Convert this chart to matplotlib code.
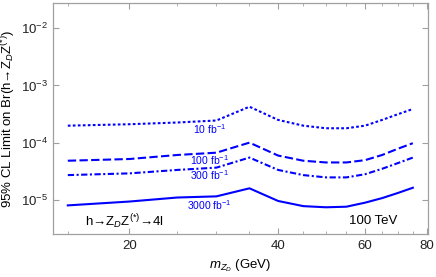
import numpy as np
import matplotlib
matplotlib.use("Agg")
import matplotlib.pyplot as plt
from matplotlib.ticker import FixedLocator, NullFormatter, LogLocator, LogFormatterMathtext, NullLocator

plt.rcParams['font.family'] = ['Liberation Sans', 'DejaVu Sans']
plt.rcParams['mathtext.fontset'] = 'custom'
plt.rcParams['mathtext.rm'] = 'Liberation Sans'
plt.rcParams['mathtext.it'] = 'Liberation Sans:italic'

# dark photon mass (GeV)
mzd = [15, 20, 25, 30, 35, 40, 45, 50, 55, 60, 65, 70, 75]

# log10 of the 95% CL limit on Br(h -> Z_D Z*)
lim_10 = [-3.70, -3.675, -3.645, -3.61, -3.37, -3.60, -3.70, -3.745, -3.745, -3.70, -3.60, -3.50, -3.41]
lim_100 = [-4.31, -4.28, -4.21, -4.17, -3.995, -4.22, -4.31, -4.34, -4.34, -4.30, -4.21, -4.10, -4.005]
lim_300 = [-4.56, -4.53, -4.47, -4.43, -4.255, -4.47, -4.56, -4.60, -4.60, -4.545, -4.45, -4.35, -4.255]
lim_3000 = [-5.087, -5.02, -4.95, -4.93, -4.79, -5.01, -5.10, -5.12, -5.11, -5.04, -4.96, -4.87, -4.78]

lumi_labels = ["10 fb$^{-1}$", "100 fb$^{-1}$", "300 fb$^{-1}$", "3000 fb$^{-1}$"]
label_y = [-3.757, -4.296, -4.557, -5.087]

blue = (0, 0, 1)
frame = "#a0a0a0"

fig = plt.figure(figsize=(4.36, 2.77), dpi=100)
ax = fig.add_axes([0.1216, 0.1552, 0.8601, 0.834])

styles = [(0, (1.3, 1.1)), (0, (4.0, 1.6)), (0, (3.0, 1.2, 1.0, 1.2)), "-"]
for vals, ls in zip([lim_10, lim_100, lim_300, lim_3000], styles):
    ax.plot(mzd, 10 ** np.array(vals), color=blue, lw=1.5, ls=ls,
            dash_capstyle="butt", solid_joinstyle="miter")

for lab, ly in zip(lumi_labels, label_y):
    ax.text(29.0, 10 ** ly, lab, color=blue, fontsize=7.5, ha="center", va="center")

ax.set_xscale("log")
ax.set_yscale("log")
ax.set_xlim(14.0, 80.5)
ax.set_ylim(2.6e-6, 2.72e-2)

ax.xaxis.set_major_locator(FixedLocator([20, 40, 60, 80]))
ax.xaxis.set_major_formatter(matplotlib.ticker.FixedFormatter(["20", "40", "60", "80"]))
ax.xaxis.set_minor_locator(FixedLocator([15, 25, 30, 35, 45, 50, 55, 65, 70, 75]))
ax.xaxis.set_minor_formatter(NullFormatter())
ax.yaxis.set_major_locator(LogLocator(base=10, numticks=10))
ax.yaxis.set_major_formatter(LogFormatterMathtext())
ax.yaxis.set_minor_locator(NullLocator())

ax.tick_params(which="both", direction="in", top=True, right=True, color=frame,
               labelsize=9.5, labelcolor="#222222")
ax.tick_params(which="major", length=4, width=0.8)
ax.tick_params(which="minor", length=2.2, width=0.6)
ax.tick_params(axis="x", pad=4)
for sp in ax.spines.values():
    sp.set_color(frame)
    sp.set_linewidth(0.9)

ax.set_xlabel(r"$m_{Z_D}$ (GeV)", fontsize=9.5, labelpad=4)
ax.set_ylabel(r"95% CL Limit on Br(h→Z$_D$Z$^{(*)}$)", fontsize=9.5, labelpad=2)

ax.text(0.085, 0.055, r"h→Z$_D$Z$^{(*)}$→4l", transform=ax.transAxes, fontsize=9.5,
        ha="left", va="center")
ax.text(0.79, 0.055, "100 TeV", transform=ax.transAxes, fontsize=9.5,
        ha="left", va="center")

fig.savefig("out.png", dpi=100)
